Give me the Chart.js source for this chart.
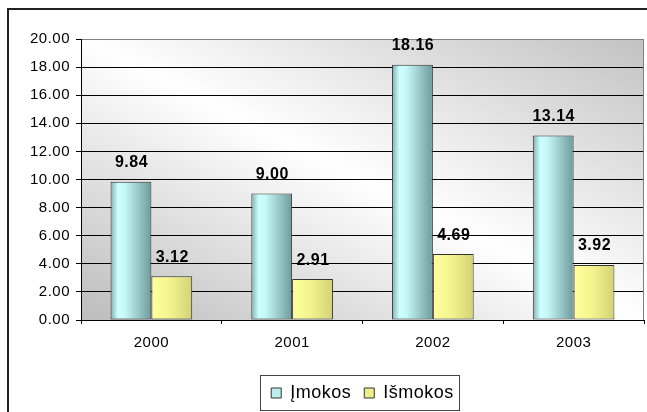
<!DOCTYPE html>
<html lang="lt">
<head>
<meta charset="UTF-8">
<title>Įmokos ir išmokos</title>
<script src="https://cdn.jsdelivr.net/npm/chart.js"></script>
<style>
  html, body { margin: 0; padding: 0; background: #fff; }
</style>
</head>
<body>
<canvas id="chart" width="647" height="412"></canvas>
<script>
// metai ir sumos
const years = ['2000', '2001', '2002', '2003'];
const imokos = [9.84, 9.00, 18.16, 13.14];
const ismokos = [3.12, 2.91, 4.69, 3.92];
const yMin = 0, yMax = 20, yStep = 2;

const FONT = '"Liberation Sans", Arial, sans-serif';

// stulpelių spalvų perėjimai (iš kairės į dešinę)
const barShades = [
    [[0, '#7fb0b0'], [0.18, '#ccffff'], [0.35, '#c6f8f8'], [1, '#6e9a9a']],
    [[0, '#ffff9c'], [0.45, '#f4f48e'], [1, '#d2d276']]
];

const decor = {
    id: 'decor',
    beforeLayout(chart) {
        chart.ctx.letterSpacing = '0.5px';
    },
    beforeDraw(chart) {
        const { ctx, chartArea: a, width, height } = chart;
        ctx.save();
        ctx.fillStyle = '#fff';
        ctx.fillRect(0, 0, width, height);

        // išorinis rėmelis
        ctx.strokeStyle = '#222';
        ctx.lineWidth = 2;
        ctx.beginPath();
        ctx.moveTo(8, height);
        ctx.lineTo(8, 9);
        ctx.lineTo(width, 9);
        ctx.stroke();

        // fonas: pilki kampai, balta juosta įstrižainėje
        const w = a.right - a.left, h = a.bottom - a.top;
        const len = Math.hypot(w, h);
        const d = w * h / len;
        const nx = h / len, ny = -w / len;
        const cx = (a.left + a.right) / 2, cy = (a.top + a.bottom) / 2;
        const g = ctx.createLinearGradient(cx - nx * d, cy - ny * d, cx + nx * d, cy + ny * d);
        g.addColorStop(0, '#bcbcbc');
        g.addColorStop(0.5, '#ffffff');
        g.addColorStop(1, '#c2c2c2');
        ctx.fillStyle = g;
        ctx.fillRect(a.left, a.top, w, h);
        ctx.restore();
    },
    beforeDatasetsDraw(chart) {
        const { ctx, chartArea: a } = chart;
        ctx.save();
        ctx.strokeStyle = '#808080';
        ctx.lineWidth = 1;
        ctx.beginPath();
        ctx.moveTo(a.right - 0.5, a.top);
        ctx.lineTo(a.right - 0.5, a.bottom);
        ctx.stroke();
        ctx.restore();

        chart.data.datasets.forEach((ds, i) => {
            chart.getDatasetMeta(i).data.forEach(bar => {
                const l = bar.x - bar.width / 2, r = bar.x + bar.width / 2;
                const g = ctx.createLinearGradient(l, 0, r, 0);
                barShades[i].forEach(([stop, col]) => g.addColorStop(stop, col));
                bar.options = Object.assign({}, bar.options, { backgroundColor: g });
            });
        });
    },
    afterDatasetsDraw(chart) {
        const ctx = chart.ctx;
        ctx.save();
        ctx.font = 'bold 16px ' + FONT;
        ctx.fillStyle = '#000';
        ctx.textAlign = 'center';
        ctx.textBaseline = 'middle';
        chart.data.datasets.forEach((ds, i) => {
            chart.getDatasetMeta(i).data.forEach((bar, j) => {
                ctx.fillText(ds.data[j].toFixed(2), bar.x + 0.5, bar.y - 19);
            });
        });
        ctx.restore();
    },
    afterDraw(chart) {
        // rėmelis aplink legendą
        const boxes = chart.legend.legendHitBoxes;
        if (!boxes || !boxes.length) return;
        const left = Math.min(...boxes.map(b => b.left)) - 11;
        const right = Math.max(...boxes.map(b => b.left + b.width)) + 5;
        const top = Math.min(...boxes.map(b => b.top)) - 9;
        const bottom = Math.max(...boxes.map(b => b.top + b.height)) + 8;
        const ctx = chart.ctx;
        ctx.save();
        ctx.strokeStyle = '#444';
        ctx.lineWidth = 1;
        ctx.strokeRect(Math.round(left) + 0.5, Math.round(top) + 0.5,
            Math.round(right - left), Math.round(bottom - top));
        ctx.restore();
    }
};

Chart.defaults.font.family = FONT;
Chart.defaults.font.size = 15;
Chart.defaults.color = '#000';

new Chart(document.getElementById('chart'), {
    type: 'bar',
    data: {
        labels: years,
        datasets: [{
            label: 'Įmokos',
            data: imokos,
            backgroundColor: '#bdeeee',
            borderColor: '#333',
            borderWidth: 1,
            borderSkipped: false
        }, {
            label: 'Išmokos',
            data: ismokos,
            backgroundColor: '#eeee8a',
            borderColor: '#333',
            borderWidth: 1,
            borderSkipped: false
        }]
    },
    options: {
        responsive: false,
        animation: false,
        events: [],
        devicePixelRatio: 1,
        layout: { padding: { top: 39, right: 3, left: 0, bottom: 0 } },
        datasets: {
            bar: { categoryPercentage: 0.58, barPercentage: 1.0 }
        },
        plugins: {
            tooltip: { enabled: false },
            legend: {
                position: 'bottom',
                fullSize: false,
                labels: {
                    boxWidth: 10,
                    boxHeight: 10,
                    padding: 13,
                    color: '#000',
                    font: { size: 18 }
                }
            }
        },
        scales: {
            x: {
                afterFit(scale) { scale.height = 51; },
                grid: {
                    offset: true,
                    drawOnChartArea: false,
                    color: '#000',
                    tickLength: 4
                },
                border: { color: '#000', width: 1 },
                ticks: { padding: 10, font: { size: 15 } }
            },
            y: {
                min: yMin,
                max: yMax,
                afterFit(scale) { scale.width = 81; },
                grid: {
                    color: c => (c.tick && c.tick.value === yMax) ? '#808080' : '#000',
                    tickColor: '#000',
                    tickLength: 5
                },
                border: { color: '#000', width: 1 },
                ticks: {
                    stepSize: yStep,
                    padding: 6,
                    font: { size: 15 },
                    callback: v => v.toFixed(2)
                }
            }
        }
    },
    plugins: [decor]
});
</script>
</body>
</html>
